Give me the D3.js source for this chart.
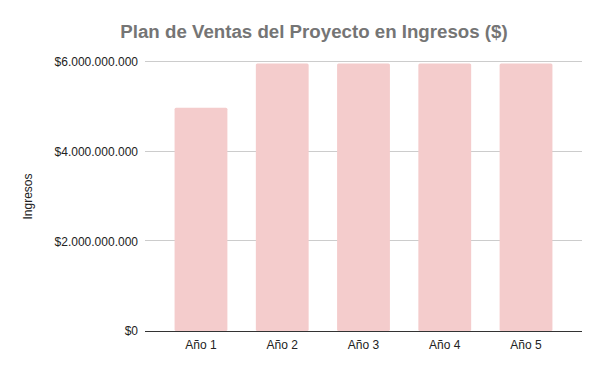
<!DOCTYPE html>
<html>
<head>
<meta charset="utf-8">
<script src="https://cdn.jsdelivr.net/npm/d3@7"></script>
<style>
  body { margin: 0; background: #fff; }
  text { font-family: "Liberation Sans", Arial, sans-serif; }
</style>
</head>
<body>
<div id="svgBody"></div>
<script>
var years = ["Año 1", "Año 2", "Año 3", "Año 4", "Año 5"];
var ingresos = [4980000000, 5965000000, 5965000000, 5965000000, 5965000000];
var yTicks = [0, 2000000000, 4000000000, 6000000000];

var width = 600, height = 371;
var margin = {top: 62, right: 18, bottom: 40, left: 145};
var innerW = width - margin.left - margin.right;
var innerH = 331 - margin.top;

var svg = d3.select("#svgBody")
    .append("svg")
    .attr("width", width)
    .attr("height", height);

var g = svg.append("g")
    .attr("transform", "translate(" + margin.left + "," + margin.top + ")");

var x = d3.scaleBand()
    .domain(years)
    .range([0, innerW])
    .paddingInner(0.35)
    .paddingOuter(0.364);

var y = d3.scaleLinear()
    .domain([0, 6000000000])
    .range([innerH, 0]);

function fmt(v) {
    // $6.000.000.000 style
    return "$" + d3.format(",")(v).replace(/,/g, ".");
}

// gridlines
g.selectAll(".grid")
    .data(yTicks.slice(1))
    .enter()
    .append("line")
    .attr("x1", 0)
    .attr("x2", innerW)
    .attr("y1", function(d) { return Math.round(y(d)) - 0.5; })
    .attr("y2", function(d) { return Math.round(y(d)) - 0.5; })
    .attr("stroke", "#cccccc")
    .attr("stroke-width", 1);

// bars
g.selectAll("rect")
    .data(ingresos)
    .enter()
    .append("rect")
    .attr("x", function(d, i) { return x(years[i]); })
    .attr("y", function(d) { return y(d); })
    .attr("width", x.bandwidth())
    .attr("height", function(d) { return innerH - y(d); })
    .attr("rx", 1.5)
    .attr("fill", "#f4cccc");

// baseline
g.append("line")
    .attr("x1", 0)
    .attr("x2", innerW)
    .attr("y1", y(0) + 0.5)
    .attr("y2", y(0) + 0.5)
    .attr("stroke", "#333333")
    .attr("stroke-width", 1);

// y tick labels
g.selectAll(".ylab")
    .data(yTicks)
    .enter()
    .append("text")
    .attr("x", -7)
    .attr("y", function(d) { return y(d); })
    .attr("dy", "0.35em")
    .attr("text-anchor", "end")
    .attr("font-size", "12px")
    .attr("fill", "#222")
    .text(fmt);

// x tick labels
g.selectAll(".xlab")
    .data(years)
    .enter()
    .append("text")
    .attr("x", function(d) { return x(d) + x.bandwidth() / 2; })
    .attr("y", innerH + 18)
    .attr("text-anchor", "middle")
    .attr("font-size", "12px")
    .attr("fill", "#222")
    .text(function(d) { return d; });

// title
svg.append("text")
    .attr("x", 314)
    .attr("y", 38)
    .attr("text-anchor", "middle")
    .attr("font-size", "18.7px")
    .attr("font-weight", "bold")
    .attr("fill", "#757575")
    .text("Plan de Ventas del Proyecto en Ingresos ($)");

// y axis label
svg.append("text")
    .attr("transform", "translate(32," + (margin.top + innerH / 2) + ") rotate(-90)")
    .attr("text-anchor", "middle")
    .attr("font-size", "12px")
    .attr("fill", "#222")
    .text("Ingresos");
</script>
</body>
</html>
